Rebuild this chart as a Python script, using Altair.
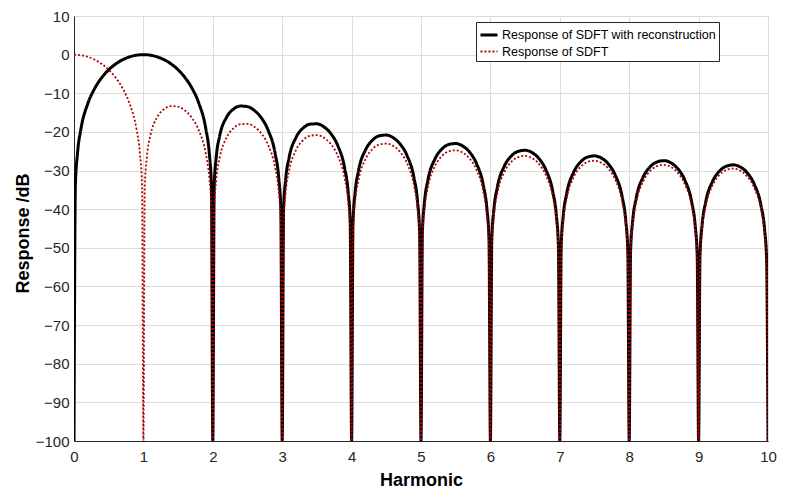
import altair as alt
import pandas as pd

# Harmonic positions (x)
HARMONIC = [
    0, 0.02, 0.05, 0.1, 0.2, 0.3, 0.4, 0.5, 0.6, 0.7, 0.8, 0.9, 0.95, 0.98,
    1, 1.02, 1.05, 1.1, 1.2, 1.3, 1.4, 1.5, 1.6, 1.7, 1.8, 1.9, 1.95, 1.98,
    2, 2.02, 2.05, 2.1, 2.2, 2.3, 2.4, 2.5, 2.6, 2.7, 2.8, 2.9, 2.95, 2.98,
    3, 3.02, 3.05, 3.1, 3.2, 3.3, 3.4, 3.5, 3.6, 3.7, 3.8, 3.9, 3.95, 3.98,
    4, 4.02, 4.05, 4.1, 4.2, 4.3, 4.4, 4.5, 4.6, 4.7, 4.8, 4.9, 4.95, 4.98,
    5, 5.02, 5.05, 5.1, 5.2, 5.3, 5.4, 5.5, 5.6, 5.7, 5.8, 5.9, 5.95, 5.98,
    6, 6.02, 6.05, 6.1, 6.2, 6.3, 6.4, 6.5, 6.6, 6.7, 6.8, 6.9, 6.95, 6.98,
    7, 7.02, 7.05, 7.1, 7.2, 7.3, 7.4, 7.5, 7.6, 7.7, 7.8, 7.9, 7.95, 7.98,
    8, 8.02, 8.05, 8.1, 8.2, 8.3, 8.4, 8.5, 8.6, 8.7, 8.8, 8.9, 8.95, 8.98,
    9, 9.02, 9.05, 9.1, 9.2, 9.3, 9.4, 9.5, 9.6, 9.7, 9.8, 9.9, 9.95, 9.98,
    10,
]

# Black solid curve: Response of SDFT with reconstruction (dB)
RECON_DB = [
    -100, -33.81, -25.61, -19.23, -12.62, -8.69, -5.94, -3.92, -2.42, -1.33, -0.58, -0.14, -0.04, -0.01,
    0, -0.01, -0.04, -0.14, -0.58, -1.33, -2.42, -3.92, -5.94, -8.69, -12.62, -19.23, -25.61, -33.81,
    -100, -34.16, -26.48, -20.97, -16.15, -14.06, -13.31, -13.47, -14.47, -16.39, -19.67, -25.72, -31.85, -39.92,
    -100, -40.09, -32.29, -26.59, -21.41, -19.02, -17.99, -17.90, -18.68, -20.41, -23.51, -29.39, -35.45, -43.47,
    -100, -43.58, -35.74, -29.97, -24.67, -22.15, -21.01, -20.82, -21.51, -23.15, -26.16, -31.96, -37.99, -45.98,
    -100, -46.07, -38.20, -32.40, -27.03, -24.45, -23.25, -23.01, -23.64, -25.23, -28.19, -33.95, -39.95, -47.93,
    -100, -48.00, -40.12, -34.29, -28.88, -26.27, -25.03, -24.75, -25.35, -26.90, -29.83, -35.56, -41.54, -49.52,
    -100, -49.58, -41.69, -35.85, -30.41, -27.77, -26.51, -26.20, -26.77, -28.30, -31.21, -36.92, -42.89, -50.86,
    -100, -50.91, -43.02, -37.17, -31.71, -29.05, -27.77, -27.44, -28.00, -29.51, -32.41, -38.10, -44.06, -52.02,
    -100, -52.07, -44.17, -38.31, -32.84, -30.17, -28.87, -28.53, -29.07, -30.57, -33.45, -39.13, -45.09, -53.05,
    -100,
]

# Red dotted curve: Response of SDFT (dB)
SDFT_DB = [
    0, -0.01, -0.04, -0.14, -0.58, -1.33, -2.42, -3.92, -5.94, -8.69, -12.62, -19.23, -25.61, -33.81,
    -100, -34.16, -26.48, -20.97, -16.15, -14.06, -13.31, -13.47, -14.47, -16.39, -19.67, -25.72, -31.85, -39.92,
    -100, -40.09, -32.29, -26.59, -21.41, -19.02, -17.99, -17.90, -18.68, -20.41, -23.51, -29.39, -35.45, -43.47,
    -100, -43.58, -35.74, -29.97, -24.67, -22.15, -21.01, -20.82, -21.51, -23.15, -26.16, -31.96, -37.99, -45.98,
    -100, -46.07, -38.20, -32.40, -27.03, -24.45, -23.25, -23.01, -23.64, -25.23, -28.19, -33.95, -39.95, -47.93,
    -100, -48.00, -40.12, -34.29, -28.88, -26.27, -25.03, -24.75, -25.35, -26.90, -29.83, -35.56, -41.54, -49.52,
    -100, -49.58, -41.69, -35.85, -30.41, -27.77, -26.51, -26.20, -26.77, -28.30, -31.21, -36.92, -42.89, -50.86,
    -100, -50.91, -43.02, -37.17, -31.71, -29.05, -27.77, -27.44, -28.00, -29.51, -32.41, -38.10, -44.06, -52.02,
    -100, -52.07, -44.17, -38.31, -32.84, -30.17, -28.87, -28.53, -29.07, -30.57, -33.45, -39.13, -45.09, -53.05,
    -100, -53.09, -45.19, -39.32, -33.84, -31.15, -29.85, -29.50, -30.03, -31.52, -34.39, -40.06, -46.01, -53.97,
    -100,
]

SERIES = ["Response of SDFT with reconstruction", "Response of SDFT"]
X_TICKS = [0, 1, 2, 3, 4, 5, 6, 7, 8, 9, 10]
Y_TICKS = [-100, -90, -80, -70, -60, -50, -40, -30, -20, -10, 0, 10]

recon = pd.DataFrame({"harmonic": HARMONIC, "db": RECON_DB, "series": SERIES[0]})
sdft = pd.DataFrame({"harmonic": HARMONIC, "db": SDFT_DB, "series": SERIES[1]})

FONT = "Liberation Sans"
INK = "#262626"

legend = alt.Legend(
    title=None,
    orient="none",
    legendX=402,
    legendY=6,
    fillColor="white",
    strokeColor=INK,
    padding=3,
    symbolType="stroke",
    symbolSize=289,
    labelFont=FONT,
    labelFontSize=12.5,
    labelColor="black",
    labelOffset=3,
    labelLimit=0,
    rowPadding=0,
    cornerRadius=0,
)

x_enc = alt.X(
    "harmonic:Q",
    scale=alt.Scale(domain=[0, 10], nice=False, zero=False),
    axis=alt.Axis(
        values=X_TICKS,
        title="Harmonic",
        labelPadding=8,
        labelFlush=False,
        titleX=347,
        titleY=44,
        titleBaseline="alphabetic",
    ),
)
y_enc = alt.Y(
    "db:Q",
    scale=alt.Scale(domain=[-100, 10], nice=False, zero=False),
    axis=alt.Axis(
        values=Y_TICKS,
        title="Response /dB",
        labelPadding=5,
        labelFlush=False,
        titleX=-46,
        titleY=217,
        titleBaseline="alphabetic",
    ),
)
color_enc = alt.Color(
    "series:N",
    scale=alt.Scale(domain=SERIES, range=["#000000", "#b00000"]),
    legend=legend,
)
dash_enc = alt.StrokeDash(
    "series:N",
    scale=alt.Scale(domain=SERIES, range=[[1, 0], [2, 2]]),
    legend=legend,
)
width_enc = alt.StrokeWidth(
    "series:N",
    scale=alt.Scale(domain=SERIES, range=[3, 1.8]),
    legend=legend,
)

black = alt.Chart(recon).mark_line(clip=True, interpolate="monotone").encode(
    x=x_enc, y=y_enc, color=color_enc, strokeDash=dash_enc, strokeWidth=width_enc
)
red = alt.Chart(sdft).mark_line(clip=True, interpolate="monotone").encode(
    x=x_enc, y=y_enc, color=color_enc, strokeDash=dash_enc, strokeWidth=width_enc
)

chart = (
    alt.layer(black, red)
    .properties(
        width=694,
        height=425,
        autosize=alt.AutoSizeParams(type="none"),
        padding={"left": 66, "top": 8, "right": 10, "bottom": 53},
        background="white",
    )
    .configure_view(stroke=INK, strokeWidth=1)
    .configure_axis(
        grid=True,
        gridColor="#dcdcdc",
        gridWidth=1,
        ticks=False,
        domain=True,
        domainColor=INK,
        labelFont=FONT,
        labelFontSize=15,
        labelColor=INK,
        titleFont=FONT,
        titleFontSize=18,
        titleFontWeight="bold",
        titleColor="black",
    )
)

chart.save("out.html", embed_options={"renderer": "svg", "actions": False})
